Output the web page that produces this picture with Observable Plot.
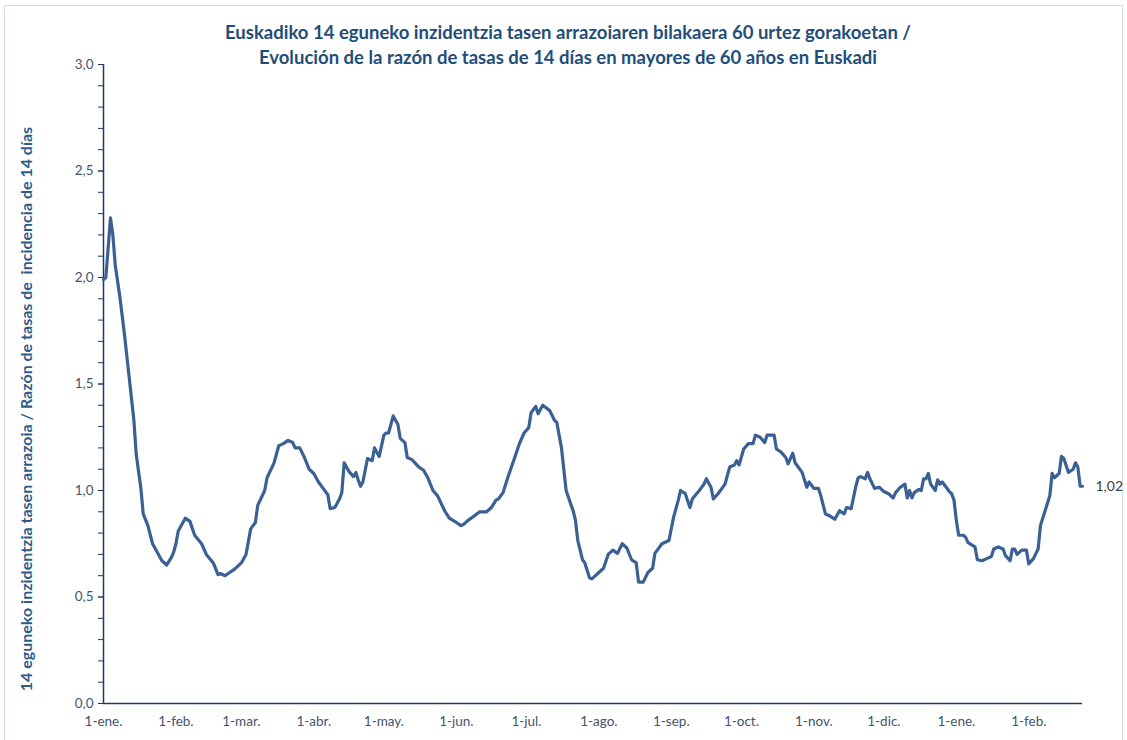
<!DOCTYPE html>
<html><head><meta charset="utf-8">
<script src="https://cdn.jsdelivr.net/npm/d3@7"></script>
<script src="https://cdn.jsdelivr.net/npm/@observablehq/plot@0.6"></script>
<style>
body{margin:0;background:#fff;font-family:Lato,"Open Sans",sans-serif;}
#wrap{position:relative;width:1127px;height:740px;overflow:hidden;}
#frame{position:absolute;left:4px;top:5px;width:1117px;height:760px;border:1px solid #D3DDEC;}
#title{position:absolute;left:0;width:1136px;top:20px;text-align:center;color:#1F4E79;font-weight:bold;font-size:18.5px;line-height:25px;}
#chart{position:absolute;left:0;top:0;}
</style></head><body>
<div id="wrap"><div id="frame"></div>
<div id="title">Euskadiko 14 eguneko inzidentzia tasen arrazoiaren bilakaera 60 urtez gorakoetan /<br>Evolución de la razón de tasas de 14 días en mayores de 60 años en Euskadi</div>
<div id="chart"></div></div>
<script>
// days since 1-ene-2021
const days = [0,1,2,3,4,5,7,9,10,11,12,13,14,16,17,19,21,23,25,27,29,30,31,32,35,37,39,42,44,47,49,50,52,54,56,59,61,63,65,66,69,70,73,75,77,79,81,82,84,86,88,90,92,94,96,97,99,101,102,103,105,107,108,109,110,111,113,115,116,118,120,121,122,123,124,126,127,129,130,132,135,137,139,141,143,146,148,151,153,154,156,158,161,164,166,168,169,171,173,176,178,180,182,183,185,186,188,191,193,194,196,198,200,201,202,203,205,206,208,209,212,214,216,218,220,222,224,226,228,229,231,233,235,236,239,242,244,246,247,249,251,252,255,257,258,260,261,263,266,268,270,271,272,274,276,278,279,281,283,284,287,288,290,292,293,295,296,299,301,302,304,306,307,309,311,313,315,317,318,320,322,323,324,326,327,328,330,332,334,336,338,339,341,343,344,345,346,347,349,350,351,352,353,354,356,357,358,359,362,363,364,365,366,368,369,370,373,374,376,378,380,381,383,385,386,388,389,390,391,393,395,396,398,400,401,403,405,406,407,409,410,411,413,415,416,417,418,419];
const values = [1.99,2.00,2.14,2.28,2.20,2.06,1.91,1.73,1.63,1.53,1.43,1.33,1.17,1.01,0.89,0.835,0.75,0.71,0.67,0.65,0.685,0.71,0.75,0.81,0.87,0.855,0.79,0.75,0.70,0.66,0.605,0.61,0.60,0.615,0.63,0.66,0.70,0.82,0.85,0.93,1.00,1.06,1.13,1.21,1.22,1.235,1.225,1.20,1.20,1.155,1.10,1.08,1.04,1.01,0.98,0.915,0.92,0.96,0.99,1.13,1.09,1.065,1.085,1.05,1.02,1.04,1.15,1.14,1.20,1.16,1.26,1.27,1.27,1.31,1.35,1.31,1.245,1.225,1.155,1.145,1.11,1.095,1.055,1.00,0.975,0.905,0.87,0.85,0.835,0.84,0.86,0.875,0.90,0.90,0.92,0.955,0.96,0.99,1.06,1.155,1.22,1.27,1.295,1.365,1.395,1.36,1.40,1.375,1.33,1.32,1.20,1.00,0.935,0.905,0.86,0.765,0.675,0.66,0.59,0.585,0.615,0.635,0.70,0.72,0.705,0.75,0.73,0.675,0.66,0.57,0.57,0.615,0.635,0.705,0.75,0.765,0.875,0.955,1.00,0.985,0.92,0.96,1.00,1.03,1.055,1.015,0.96,0.985,1.03,1.11,1.12,1.14,1.12,1.195,1.22,1.22,1.26,1.25,1.225,1.26,1.26,1.195,1.18,1.155,1.125,1.175,1.13,1.085,1.015,1.04,1.01,1.01,0.975,0.89,0.88,0.865,0.905,0.89,0.92,0.915,1.02,1.06,1.065,1.055,1.085,1.055,1.01,1.015,0.995,0.985,0.965,0.99,1.015,1.03,0.965,1.00,0.965,0.99,1.005,1.00,1.055,1.055,1.08,1.03,1.00,1.05,1.03,1.04,0.995,0.985,0.955,0.86,0.79,0.79,0.78,0.755,0.735,0.675,0.67,0.68,0.69,0.725,0.735,0.725,0.695,0.67,0.725,0.725,0.70,0.72,0.72,0.655,0.68,0.725,0.835,0.905,0.975,1.08,1.06,1.08,1.16,1.15,1.085,1.10,1.13,1.11,1.02,1.02];
const tickDates = ["2021-01-01","2021-02-01","2021-03-01","2021-04-01","2021-05-01","2021-06-01","2021-07-01","2021-08-01","2021-09-01","2021-10-01","2021-11-01","2021-12-01","2022-01-01","2022-02-01"];
const tickLabels = ["1-ene.","1-feb.","1-mar.","1-abr.","1-may.","1-jun.","1-jul.","1-ago.","1-sep.","1-oct.","1-nov.","1-dic.","1-ene.","1-feb."];
const yTicks = [0,0.1,0.2,0.3,0.4,0.5,0.6,0.7,0.8,0.9,1.0,1.1,1.2,1.3,1.4,1.5,1.6,1.7,1.8,1.9,2.0,2.1,2.2,2.3,2.4,2.5,2.6,2.7,2.8,2.9,3.0];
const yLabelTicks = [0,0.5,1.0,1.5,2.0,2.5,3.0];
const endLabel = "1,02";
const yTitle = "14 eguneko inzidentzia tasen arrazoia / Razón de tasas de  incidencia de 14 días";

const start = new Date(Date.UTC(2021,0,1));
const data = days.map((d,i)=>({date:d3.utcDay.offset(start,d), value:values[i]}));
const end = data[data.length-1].date;
const tDates = tickDates.map(s=>new Date(s+"T00:00:00Z"));
const labelMap = new Map(tDates.map((d,i)=>[+d, tickLabels[i]]));
const navy = "#1F3864";
const txt = "#44546A";
const fmt = d => d.toFixed(1).replace(".", ",");

const chart = Plot.plot({
  width:1127, height:740,
  marginTop:64, marginBottom:37, marginLeft:103, marginRight:45,
  style:{fontFamily:"Lato, 'Open Sans', sans-serif", fontSize:"13px", background:"transparent"},
  x:{type:"utc", domain:[start,end]},
  y:{domain:[0,3]},
  marks:[
    Plot.axisY(yTicks, {tickSize:5, stroke:navy, text:null, label:null}),
    Plot.axisY(yLabelTicks, {tickSize:5, tickPadding:5, stroke:navy, fill:txt, tickFormat:fmt, label:null, fontSize:13.5}),
    Plot.axisX(tDates, {tickSize:0, tickPadding:13, fill:txt, tickFormat:d=>labelMap.get(+d), label:null, fontSize:13.5}),
    Plot.ruleX([start], {y1:0, y2:3, stroke:navy, strokeWidth:1.5}),
    Plot.ruleY([0], {x1:start, x2:end, stroke:navy, strokeWidth:1.5}),
    Plot.line(data, {x:"date", y:"value", stroke:"#3A6094", strokeWidth:3.2, strokeLinejoin:"round"}),
    Plot.text([data[data.length-1]], {x:"date", y:"value", text:()=>endLabel, dx:13, textAnchor:"start", fill:"#404040", fontSize:14})
  ]
});
d3.select(chart).append("text")
  .attr("transform","translate(32,409) rotate(-90)")
  .attr("text-anchor","middle")
  .attr("fill","#2E5C8A")
  .attr("font-weight","bold")
  .attr("font-size","16px")
  .style("white-space","pre")
  .text(yTitle);
document.getElementById("chart").appendChild(chart);
</script>
</body></html>
